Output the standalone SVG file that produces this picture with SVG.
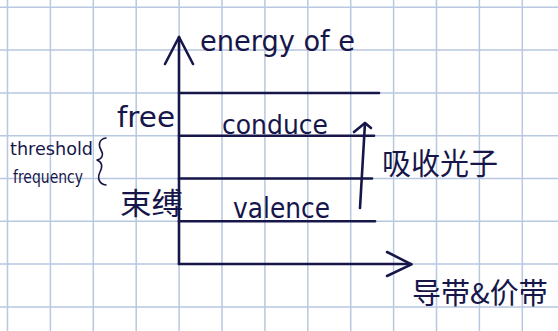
<svg xmlns="http://www.w3.org/2000/svg" width="558" height="331" viewBox="0 0 558 331">
  <style>
    .grid { stroke: #b8c8de; stroke-width: 1.5; fill: none; }
    .ink { stroke: #16164a; stroke-width: 2.6; fill: none; stroke-linecap: round; stroke-linejoin: round; }
    .t { fill: #16164a; font-family: "DejaVu Sans", "Noto Sans", sans-serif; }
    .cjk { fill: #16164a; font-family: "Noto Sans CJK SC", "DejaVu Sans", sans-serif; }
  </style>

  <rect width="558" height="331" fill="#ffffff"/>

  <!-- squared paper -->
  <g id="grid" class="grid">
    <path d="M7.5 0V331M50.4 0V331M93.3 0V331M136.2 0V331M179.1 0V331M222 0V331M264.9 0V331M307.8 0V331M350.7 0V331M393.6 0V331M436.5 0V331M479.4 0V331M522.3 0V331"/>
    <path d="M0 7.3H558M0 50.1H558M0 92.9H558M0 135.7H558M0 178.5H558M0 221.3H558M0 264.1H558M0 306.9H558"/>
  </g>

  <!-- energy axis and horizontal axis -->
  <g id="axes" class="ink">
    <path d="M179 264V37"/>
    <path d="M165 64L179 37L193 64"/>
    <path d="M179 264H411"/>
    <path d="M387 252L411.5 264.3L387 276"/>
  </g>

  <!-- band edges -->
  <g id="bands" class="ink">
    <path d="M179 93H379"/>
    <path d="M179 135.7H374"/>
    <path d="M179 178.5H372"/>
    <path d="M179 221.3H375"/>
  </g>

  <!-- absorption transition -->
  <g id="connectors" class="ink">
    <path d="M360 208L365 123"/>
    <path d="M354 132L365 123L371 128"/>
  </g>

  <g id="label-energy">
    <text class="t" x="200" y="51" font-size="28" textLength="155" lengthAdjust="spacingAndGlyphs">energy of e</text>
  </g>
  <g id="label-free">
    <text class="t" x="117" y="127" font-size="28" textLength="58" lengthAdjust="spacingAndGlyphs">free</text>
  </g>
  <g id="label-conduce">
    <text class="t" x="222" y="134" font-size="26" textLength="106" lengthAdjust="spacingAndGlyphs">conduce</text>
  </g>
  <g id="label-valence">
    <text class="t" x="233" y="218" font-size="28" textLength="97" lengthAdjust="spacingAndGlyphs">valence</text>
  </g>
  <g id="label-bound">
    <text class="cjk" x="120" y="214" font-size="30" textLength="63" lengthAdjust="spacingAndGlyphs">束缚</text>
  </g>
  <g id="label-threshold">
    <text class="t" x="10" y="155" font-size="18" textLength="83" lengthAdjust="spacingAndGlyphs">threshold</text>
    <text class="t" x="13" y="183" font-size="18" textLength="70" lengthAdjust="spacingAndGlyphs">frequency</text>
    <path class="ink" style="stroke-width:1.6" d="M106 138C99 139 98 145 101 150C104 155 102 159 97 160C102 162 103 166 100 172C97 178 99 184 106 185"/>
  </g>
  <g id="label-absorb">
    <text class="cjk" x="382" y="174" font-size="30" textLength="116" lengthAdjust="spacingAndGlyphs">吸收光子</text>
  </g>
  <g id="label-bands">
    <text class="cjk" x="412" y="304" font-size="29">导带&amp;价带</text>
  </g>
</svg>
